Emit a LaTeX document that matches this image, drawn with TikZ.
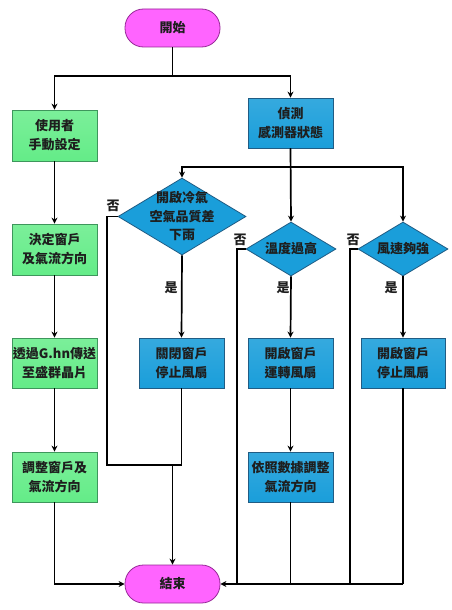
\documentclass[tikz,border=0pt]{standalone}
\usepackage{fontspec}
\setmainfont{Noto Sans CJK TC}
\usetikzlibrary{shapes.geometric,arrows.meta}
\definecolor{gfill}{RGB}{100,236,136}
\definecolor{gdraw}{RGB}{62,150,92}
\definecolor{bfill}{RGB}{26,158,218}
\definecolor{bdraw}{RGB}{32,92,132}
\definecolor{mfill}{RGB}{255,100,255}
\definecolor{mdraw}{RGB}{150,40,150}
\definecolor{txt}{RGB}{30,30,30}
\tikzset{
  every node/.style={font=\bfseries\fontsize{13}{19}\selectfont, text=txt, align=center},
  gbox/.style={draw=gdraw, line width=0.8pt, top color=gfill!85!white, bottom color=gfill, minimum width=85pt, minimum height=50pt, inner sep=0pt},
  bbox/.style={draw=bdraw, line width=0.8pt, top color=bfill!88!white, bottom color=bfill, minimum width=85pt, minimum height=50pt, inner sep=0pt},
  term/.style={draw=mdraw, line width=0.8pt, fill=mfill, rounded corners=18.5pt, minimum width=95pt, minimum height=38pt, inner sep=0pt},
  dia/.style={diamond, draw=bdraw, line width=0.8pt, fill=bfill, inner sep=0pt},
  conn/.style={line width=1.7pt, black},
  arr/.style={conn, -{Stealth[length=6pt,width=6pt]}},
  lab/.style={inner sep=0pt}
}
\begin{document}
\begin{tikzpicture}[x=1pt,y=-1pt]
\useasboundingbox (0,0) rectangle (452,610);
% nodes
\node[term] (start) at (172.5,28) {開始};
\node[gbox, minimum height=51pt] (u1) at (54.5,135.5) {使用者\\手動設定};
\node[bbox] (s1) at (290.5,123) {偵測\\感測器狀態};
\node[dia, minimum width=128pt, minimum height=77pt,
      label={[font=\bfseries\fontsize{13}{18.5}\selectfont, text=txt, align=center]center:開啟冷氣\\空氣品質差\\下雨}] (d1) at (182,216.5) {};
\node[dia, minimum width=90pt, minimum height=54pt,
      label={[font=\bfseries\fontsize{13}{19}\selectfont, text=txt]center:溫度過高}] (d2) at (291,249) {};
\node[dia, minimum width=90pt, minimum height=54pt,
      label={[font=\bfseries\fontsize{13}{19}\selectfont, text=txt]center:風速夠強}] (d3) at (403,249) {};
\node[gbox, minimum height=51pt] (l2) at (54.5,249.5) {決定窗戶\\及氣流方向};
\node[gbox] (l3) at (54.5,363) {透過G.hn傳送\\至盛群晶片};
\node[gbox] (l4) at (54.5,477) {調整窗戶及\\氣流方向};
\node[bbox] (b1) at (181.5,363) {關閉窗戶\\停止風扇};
\node[bbox] (b2) at (290.5,363) {開啟窗戶\\運轉風扇};
\node[bbox, minimum width=84pt] (b3) at (403,363) {開啟窗戶\\停止風扇};
\node[bbox] (b4) at (290.5,477) {依照數據調整\\氣流方向};
\node[term] (end) at (172.5,584) {結束};
% labels
\node[lab] (n1) at (113,206) {否};
\node[lab] (n2) at (240,240) {否};
\node[lab] (n3) at (353,240) {否};
\node[lab] (y1) at (171,288) {是};
\node[lab] (y2) at (283,288) {是};
\node[lab] (y3) at (391,288) {是};
% junctions
\coordinate (j1) at (172.5,76);
\coordinate (j2) at (290.5,167);
\coordinate (j3) at (107,465);
\coordinate (j4) at (181.5,465);
\coordinate (j5) at (237,584);
\coordinate (j6) at (350,584);
\coordinate (j7) at (403,584);
\coordinate (j8) at (290.5,584);
% connectors
\draw[conn] (start.south) -- (j1);
\draw[arr] (j1) -| (u1.north);
\draw[arr] (j1) -| (s1.north);
\draw[conn] (s1.south) -- (j2);
\draw[arr] (j2) -| (d1.north);
\draw[arr] (s1.south) -- (d2.north);
\draw[arr] (j2) -| (d3.north);
\draw[arr] (u1) -- (l2);
\draw[arr] (l2) -- (l3);
\draw[arr] (l3) -- (l4);
\draw[arr] (l4.south) |- (end.west);
\draw[arr] (d1.south) -- (b1.north);
\draw[conn] (d1.west) -| (j3) -- (j4);
\draw[conn] (b1.south) -- (j4);
\draw[arr] (end.north |- j4) -- (end.north);
\draw[arr] (d2.south) -- (b2.north);
\draw[arr] (b2) -- (b4);
\draw[conn] (b4.south) -- (j8);
\draw[conn] (d2.west) -| (j5);
\draw[arr] (d3.south) -- (b3.north);
\draw[conn] (d3.west) -| (j6);
\draw[conn] (b3.south) -- (j7);
\draw[arr] (j7) -- (end.east);
\end{tikzpicture}
\end{document}
